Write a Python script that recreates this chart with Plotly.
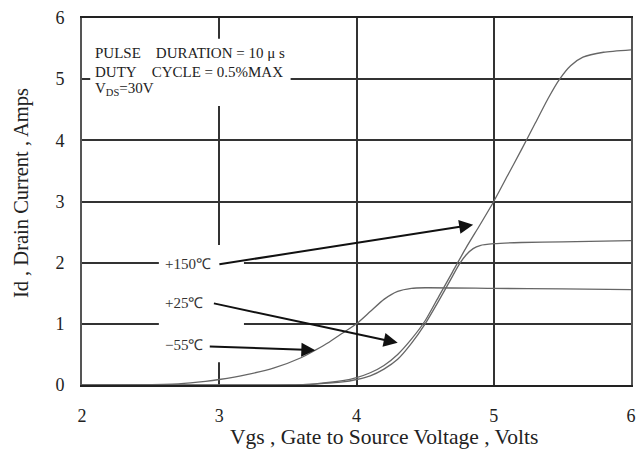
import plotly.graph_objects as go

# Transfer characteristics: drain current vs gate-source voltage at three temperatures
vgs_m55 = [2.0, 2.4, 2.7, 2.9, 3.0, 3.2, 3.4, 3.6, 3.7, 3.8, 3.9, 4.0, 4.1, 4.2, 4.3, 4.4, 4.5, 5.0, 5.5, 6.0]
id_m55 = [0.0, 0.005, 0.02, 0.06, 0.09, 0.17, 0.28, 0.45, 0.57, 0.7, 0.85, 1.0, 1.2, 1.4, 1.53, 1.58, 1.59, 1.58, 1.57, 1.56]

vgs_p25 = [2.0, 3.5, 3.7, 3.9, 4.0, 4.1, 4.2, 4.3, 4.4, 4.5, 4.6, 4.7, 4.75, 4.8, 4.85, 4.9, 5.0, 5.2, 5.5, 6.0]
id_p25 = [0.0, 0.0, 0.015, 0.05, 0.09, 0.15, 0.26, 0.42, 0.68, 1.0, 1.38, 1.78, 1.98, 2.13, 2.23, 2.28, 2.31, 2.33, 2.34, 2.36]

vgs_p150 = [2.0, 3.5, 3.7, 3.9, 4.0, 4.1, 4.2, 4.3, 4.4, 4.5, 4.6, 4.7, 4.8, 4.9, 5.0, 5.1, 5.2, 5.3, 5.4, 5.48, 5.56, 5.65, 5.8, 6.0]
id_p150 = [0.0, 0.0, 0.02, 0.07, 0.12, 0.2, 0.32, 0.5, 0.75, 1.05, 1.45, 1.85, 2.25, 2.62, 3.0, 3.42, 3.84, 4.27, 4.7, 5.0, 5.22, 5.36, 5.44, 5.48]

# Temperature labels and the arrows pointing from each label to its curve
temp_labels = ["+150\u2103", "+25\u2103", "\u221255\u2103"]
label_x = [2.77, 2.74, 2.74]
label_y = [1.98, 1.34, 0.65]
arrow_tail_x = [2.99, 2.95, 2.92]
arrow_tail_y = [1.97, 1.34, 0.63]
arrow_head_x = [4.85, 4.30, 3.70]
arrow_head_y = [2.62, 0.69, 0.57]

# Test-condition notes
note_lines = [
    "PULSE\u00a0\u00a0\u00a0\u00a0DURATION = 10 \u03bc s",
    "DUTY\u00a0\u00a0\u00a0\u00a0CYCLE = 0.5%MAX",
    "V<sub>DS</sub>=30V",
]
note_y = [5.42, 5.12, 4.84]

x_ticks = [2, 3, 4, 5, 6]
y_ticks = [0, 1, 2, 3, 4, 5, 6]

serif = "Liberation Serif, Times New Roman, serif"
curve_color = "#666666"

fig = go.Figure()
for xs, ys in [(vgs_m55, id_m55), (vgs_p25, id_p25), (vgs_p150, id_p150)]:
    fig.add_trace(go.Scatter(
        x=xs, y=ys, mode="lines", line=dict(color=curve_color, width=1.3, shape="spline", smoothing=0.6),
        showlegend=False, hoverinfo="skip",
    ))

annotations = []
for i in range(len(temp_labels)):
    annotations.append(dict(
        x=arrow_head_x[i], y=arrow_head_y[i], ax=arrow_tail_x[i], ay=arrow_tail_y[i],
        xref="x", yref="y", axref="x", ayref="y", text="", showarrow=True,
        arrowhead=2, arrowsize=1.4, arrowwidth=2, arrowcolor="#111111",
    ))
    annotations.append(dict(
        x=label_x[i], y=label_y[i], xref="x", yref="y", text=temp_labels[i], showarrow=False,
        font=dict(family=serif, size=15, color="#333333"),
    ))

for txt, yy in zip(note_lines, note_y):
    annotations.append(dict(
        x=2.08, y=yy, xref="x", yref="y", text=txt, showarrow=False, xanchor="left", yanchor="middle",
        font=dict(family=serif, size=15, color="#222222"),
    ))

annotations.append(dict(
    x=0.55, y=-0.142, xref="paper", yref="paper", text="Vgs , Gate to Source Voltage , Volts",
    showarrow=False, xanchor="center", yanchor="middle",
    font=dict(family=serif, size=21.5, color="#222222"),
))
annotations.append(dict(
    x=-0.111, y=0.523, xref="paper", yref="paper", text="Id , Drain Current , Amps", textangle=-90,
    showarrow=False, xanchor="center", yanchor="middle",
    font=dict(family=serif, size=20.5, color="#222222"),
))

# White panels keep the grid clear behind the text blocks
shapes = [
    dict(type="rect", xref="x", yref="y", x0=2.06, x1=3.52, y0=4.56, y1=5.66,
         fillcolor="white", line=dict(width=0), layer="between"),
    dict(type="rect", xref="x", yref="y", x0=2.56, x1=3.18, y0=0.37, y1=2.29,
         fillcolor="white", line=dict(width=0), layer="between"),
]

fig.update_layout(
    width=640, height=452,
    margin=dict(l=82, r=4, t=18, b=67),
    paper_bgcolor="white", plot_bgcolor="white",
    annotations=annotations, shapes=shapes,
    font=dict(family=serif, color="#222222"),
    xaxis=dict(
        range=[2, 6], tickvals=x_ticks, ticks="outside", ticklen=13, tickcolor="rgba(0,0,0,0)",
        showgrid=True, gridcolor="#333333", gridwidth=1.5, zeroline=False,
        showline=True, linecolor="#222222", linewidth=2, mirror=True,
        tickfont=dict(family=serif, size=18, color="#222222"),
    ),
    yaxis=dict(
        range=[0, 6], tickvals=y_ticks, ticks="outside", ticklen=12, tickcolor="rgba(0,0,0,0)",
        showgrid=True, gridcolor="#333333", gridwidth=1.5, zeroline=False,
        showline=True, linecolor="#555555", linewidth=2, mirror=True,
        tickfont=dict(family=serif, size=18, color="#222222"),
    ),
)

fig.write_html("out.html")
